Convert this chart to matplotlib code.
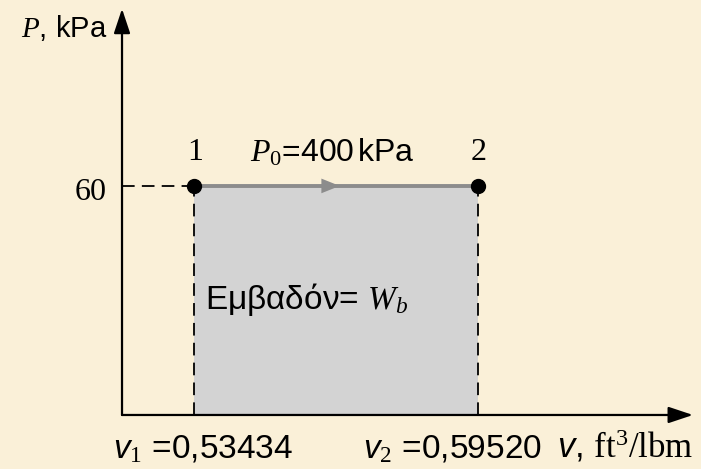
import matplotlib
matplotlib.use('Agg')
import matplotlib.pyplot as plt

# process data (constant pressure expansion)
v_states = [0.53434, 0.59520]      # ft^3/lbm
p_line = 60                        # kPa, pressure level on the diagram
state_labels = ['1', '2']
v_labels = ['0,53434', '0,59520']
p0_label = '400'

plt.rcParams['font.family'] = ['Liberation Sans', 'DejaVu Sans']
plt.rcParams['mathtext.fontset'] = 'custom'
plt.rcParams['mathtext.rm'] = 'Liberation Serif'
plt.rcParams['mathtext.it'] = 'Liberation Serif:italic'
plt.rcParams['mathtext.bf'] = 'Liberation Serif:bold'
plt.rcParams['mathtext.sf'] = 'Liberation Sans:italic'

bg = '#FAF0D8'
fig = plt.figure(figsize=(7.01, 4.69), dpi=100, facecolor=bg)
ax = fig.add_axes([0, 0, 1, 1])
ax.set_facecolor(bg)
ax.set_xlim(0.49276, 0.64300)
ax.set_ylim(-14.15, 108.7)
ax.axis('off')

v1, v2 = v_states
x0, x_end, y_top = 0.51891, 0.64128, 106.4

# axes with arrow heads
arrow_kw = dict(arrowstyle='-|>,head_length=0.75,head_width=0.25', lw=1.6,
                color='black', mutation_scale=20, shrinkA=0, shrinkB=0)
ax.annotate('', xy=(x_end, 0), xytext=(x0, 0), arrowprops=arrow_kw)
ax.annotate('', xy=(x0, y_top), xytext=(x0, 0), arrowprops=arrow_kw)

# shaded area = boundary work
ax.fill_between(v_states, 0, p_line, color='#D3D3D3', lw=0, zorder=1)

# dashed guide lines
dash_kw = dict(color='black', lw=1.3, ls=(0, (7, 4)), zorder=2)
ax.plot([x0, v1], [p_line, p_line], **dash_kw)
for v in v_states:
    ax.plot([v, v], [0, p_line], **dash_kw)

# process line with direction arrow
gray = '#8C8C8C'
ax.plot(v_states, [p_line, p_line], color=gray, lw=2.8, zorder=3,
        solid_capstyle='butt')
mid = (v1 + v2) / 2
ax.annotate('', xy=(mid + 0.0008, p_line), xytext=(mid - 0.004, p_line),
            arrowprops=dict(arrowstyle='-|>,head_length=0.55,head_width=0.22',
                            color=gray, lw=0, mutation_scale=24,
                            shrinkA=0, shrinkB=0), zorder=4)

# state points
ax.plot(v_states, [p_line, p_line], 'o', color='black', ms=10, zorder=5)

# labels
for v, lab in zip(v_states, state_labels):
    ax.annotate(lab, xy=(v, p_line), xytext=(1, 26), textcoords='offset pixels',
                ha='center', va='baseline', fontsize=23, family='Liberation Serif')

ax.annotate(r'$P_0$=' + p0_label + r'$\,$kPa', xy=(mid, p_line), xytext=(-4, 24),
            textcoords='offset pixels', ha='center', va='baseline', fontsize=23)

ax.annotate(r'Εμβαδόν= $W_b$', xy=(v1, p_line / 2), xytext=(11, -9),
            textcoords='offset pixels', ha='left', va='baseline', fontsize=24)

ax.annotate(str(p_line), xy=(x0, p_line), xytext=(-15, -14), textcoords='offset pixels',
            ha='right', va='baseline', fontsize=23, family='Liberation Serif')

ax.annotate(r'$P$, kPa', xy=(x0, y_top), xytext=(-15, -28), textcoords='offset pixels',
            ha='right', va='baseline', fontsize=21)

ax.annotate(r'$\mathsf{v}_1$ =' + v_labels[0], xy=(v1, 0), xytext=(-81, -43),
            textcoords='offset pixels', ha='left', va='baseline', fontsize=24)
ax.annotate(r'$\mathsf{v}_2$ =' + v_labels[1], xy=(v2, 0), xytext=(-115, -43),
            textcoords='offset pixels', ha='left', va='baseline', fontsize=24)
ax.annotate(r'$\mathsf{v}$, $\mathrm{ft}^3\mathrm{/lbm}$', xy=(x_end, 0), xytext=(0, -43),
            textcoords='offset pixels', ha='right', va='baseline', fontsize=25)

fig.savefig('out.png', dpi=100, facecolor=bg)
